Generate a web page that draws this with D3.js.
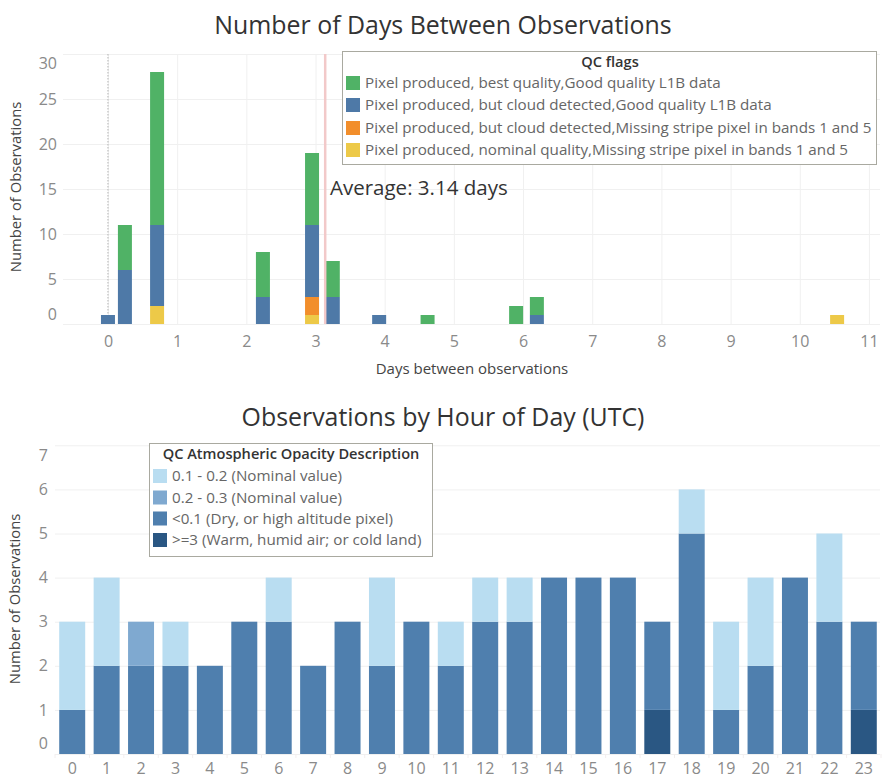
<!DOCTYPE html>
<html><head><meta charset="utf-8">
<script src="https://cdn.jsdelivr.net/npm/d3@7"></script>
<style>
html,body{margin:0;padding:0;background:#fff}
svg{display:block}
text{font-family:"Open Sans",sans-serif}
.grid line{stroke:#f0f0f0;stroke-width:1}
.tick-lab{fill:#8a8a8a;font-size:16px}
</style></head><body>
<svg id="c" width="888" height="783"></svg>
<script>
// Chart 1: days between observations
const dayBins = [0, 0.245, 0.71, 2.24, 2.95, 3.25, 3.92, 4.62, 5.9, 6.2, 10.54];
const flagBest      = [0, 5, 17, 5, 8, 4, 0, 1, 2, 2, 0];
const flagCloudGood = [1, 6, 9, 3, 8, 3, 1, 0, 0, 1, 0];
const flagCloudMiss = [0, 0, 0, 0, 2, 0, 0, 0, 0, 0, 0];
const flagNomMiss   = [0, 0, 2, 0, 1, 0, 0, 0, 0, 0, 1];
const flagNames = [
  "Pixel produced, best quality,Good quality L1B data",
  "Pixel produced, but cloud detected,Good quality L1B data",
  "Pixel produced, but cloud detected,Missing stripe pixel in bands 1 and 5",
  "Pixel produced, nominal quality,Missing stripe pixel in bands 1 and 5"];
const flagColors = ["#50b266", "#4e79a7", "#f28e2b", "#edc948"];
const dayTicks = [0,1,2,3,4,5,6,7,8,9,10,11];
const countTicks = [0,5,10,15,20,25,30];
const averageDays = 3.14;

// Chart 2: observations by hour
const hours = d3.range(24);
const opDry   = [1,2,2,2,2,3,3,2,3,2,3,2,3,3,4,4,4,2,5,1,2,4,3,2];
const opHumid = [0,0,0,0,0,0,0,0,0,0,0,0,0,0,0,0,0,1,0,0,0,0,0,1];
const opMid   = [0,0,1,0,0,0,0,0,0,0,0,0,0,0,0,0,0,0,0,0,0,0,0,0];
const opLow   = [2,2,0,1,0,0,1,0,0,2,0,1,1,1,0,0,0,0,1,2,2,0,2,0];
const opNames = ["0.1 - 0.2 (Nominal value)","0.2 - 0.3 (Nominal value)","<0.1 (Dry, or high altitude pixel)",">=3 (Warm, humid air; or cold land)"];
const opColors = ["#b9ddf1","#7fa9d0","#4f7fae","#2a5783"];
const hourCountTicks = [0,1,2,3,4,5,6,7];

const svg = d3.select("#c");
const ink = "#333";

function title(t,y){svg.append("text").attr("x",443).attr("y",y).attr("text-anchor","middle").attr("fill",ink).attr("font-size",24.9).attr("font-weight",500).text(t);}
function yTitle(t,x,y){svg.append("text").attr("transform",`translate(${x},${y}) rotate(-90)`).attr("text-anchor","middle").attr("dominant-baseline","middle").attr("fill","#444").attr("font-size",14.8).text(t);}
function yAxis(scale,ticks,x0,x1,labelX,topShift,botShift){
  const g=svg.append("g").attr("class","grid").attr("transform",`translate(${x0},0)`)
    .call(d3.axisLeft(scale).tickValues(ticks).tickSize(x0-x1).tickPadding(0).tickFormat(d3.format("d")));
  g.select(".domain").remove();
  g.selectAll("text").attr("class","tick-lab").attr("text-anchor","end").attr("x",labelX-x0)
    .attr("dy",(d,i)=>i===0?`${0.32-botShift/16}em`:i===ticks.length-1?`${0.32+topShift/16}em`:"0.32em");
}
function legend(x,y,w,h,head,headX,names,colors,swX,txtX,rows){
  svg.append("rect").attr("x",x).attr("y",y).attr("width",w).attr("height",h).attr("fill","#fff").attr("stroke","#a9a9a0").attr("stroke-width",1);
  svg.append("text").attr("x",headX).attr("y",y+11.5).attr("text-anchor","middle").attr("dominant-baseline","middle").attr("fill",ink).attr("font-size",14.6).attr("font-weight",600).text(head);
  names.forEach((n,i)=>{
    svg.append("rect").attr("x",swX).attr("y",rows[i]-7).attr("width",14).attr("height",14).attr("fill",colors[i]);
    svg.append("text").attr("x",txtX).attr("y",rows[i]+1).attr("dominant-baseline","middle").attr("fill","#666").attr("font-size",15.2).text(n);
  });
}

/* ---------- top chart ---------- */
title("Number of Days Between Observations",34);
const x1 = d3.scaleLinear().domain([-0.65,11.16]).range([63,880]);
const y1 = d3.scaleLinear().domain([0,30]).range([324,54]);
yAxis(y1,countTicks,63,880,57,9,10);
const gx1=svg.append("g").attr("class","grid").attr("transform","translate(0,54)")
  .call(d3.axisBottom(x1).tickValues(dayTicks).tickSize(270).tickPadding(0).tickFormat(d3.format("d")));
gx1.select(".domain").remove();
gx1.selectAll("text").attr("class","tick-lab").attr("y",288).attr("dy","0.32em");
svg.append("line").attr("x1",x1(0)).attr("x2",x1(0)).attr("y1",54).attr("y2",324).attr("stroke","#b5b5b5").attr("stroke-dasharray","1.5 1.5");

const topRows = dayBins.map((d,i)=>({d,best:flagBest[i],good:flagCloudGood[i],miss:flagCloudMiss[i],nom:flagNomMiss[i]}));
const topKeys=["nom","miss","good","best"], topCols={nom:flagColors[3],miss:flagColors[2],good:flagColors[1],best:flagColors[0]};
const s1=d3.stack().keys(topKeys)(topRows);
svg.append("g").selectAll("g").data(s1).join("g").attr("fill",d=>topCols[d.key])
  .selectAll("rect").data(d=>d).join("rect")
  .attr("x",d=>x1(d.data.d)-7).attr("width",14)
  .attr("y",d=>y1(d[1])).attr("height",d=>y1(d[0])-y1(d[1]));
svg.append("line").attr("x1",x1(averageDays)).attr("x2",x1(averageDays)).attr("y1",54).attr("y2",324).attr("stroke","#f2c9c9").attr("stroke-width",2.5);
svg.append("text").attr("x",330).attr("y",190).attr("dominant-baseline","middle").attr("fill",ink).attr("font-size",20.5).text(`Average: ${averageDays} days`);
yTitle("Number of Observations",17,187);
svg.append("text").attr("x",472).attr("y",374).attr("text-anchor","middle").attr("fill","#444").attr("font-size",15).attr("font-weight",500).text("Days between observations");
legend(342.5,51.5,534,113,"QC flags",610,flagNames,flagColors,346,365,[83,105,128,150]);

/* ---------- bottom chart ---------- */
title("Observations by Hour of Day (UTC)",426);
const x2=d3.scaleBand().domain(hours).range([55,881]).paddingInner(0.245).paddingOuter(0.1225);
const y2=d3.scaleLinear().domain([0,7]).range([754,445.3]);
yAxis(y2,hourCountTicks,55,880,48,10,11);
const botRows=hours.map((h,i)=>({h,humid:opHumid[i],dry:opDry[i],mid:opMid[i],low:opLow[i]}));
const botKeys=["humid","dry","mid","low"], botCols={humid:opColors[3],dry:opColors[2],mid:opColors[1],low:opColors[0]};
const s2=d3.stack().keys(botKeys)(botRows);
svg.append("g").selectAll("g").data(s2).join("g").attr("fill",d=>botCols[d.key])
  .selectAll("rect").data(d=>d).join("rect")
  .attr("x",d=>x2(d.data.h)).attr("width",x2.bandwidth())
  .attr("y",d=>y2(d[1])).attr("height",d=>y2(d[0])-y2(d[1]));
const gx2=svg.append("g").attr("transform","translate(0,754)")
  .call(d3.axisBottom(x2).tickSize(0).tickPadding(0));
gx2.select(".domain").remove();
gx2.selectAll("text").attr("class","tick-lab").attr("y",15).attr("dy","0.32em");
svg.append("g").selectAll("line").data(hours.concat([24])).join("line")
  .attr("x1",d=>55+d*x2.step()).attr("x2",d=>55+d*x2.step()).attr("y1",754).attr("y2",758).attr("stroke","#f3eeee");
yTitle("Number of Observations",16,599);
legend(149.5,443.5,283,113,"QC Atmospheric Opacity Description",291,opNames,opColors,153,172,[476,497.5,518.5,540]);
</script></body></html>
